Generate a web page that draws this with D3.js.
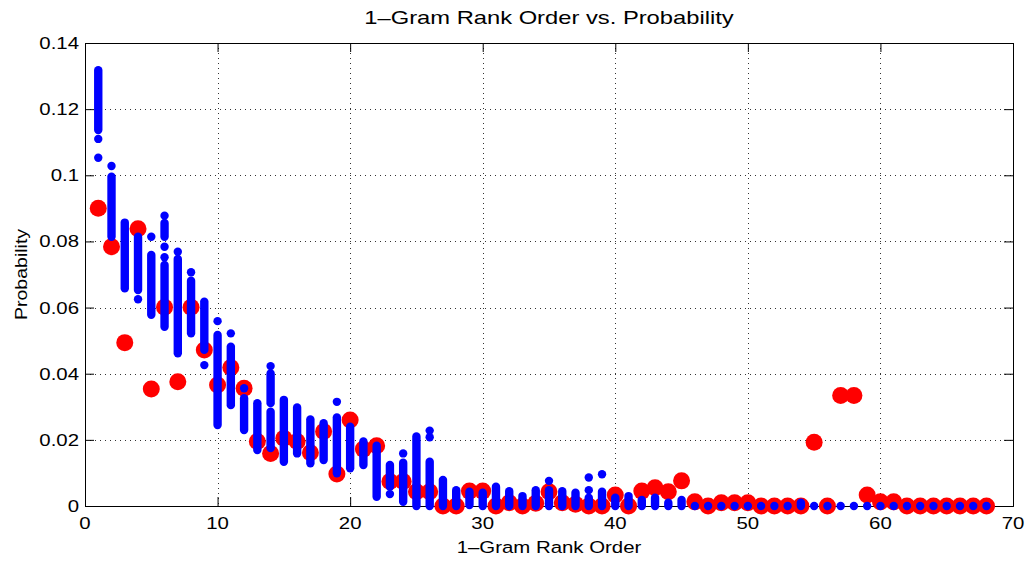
<!DOCTYPE html>
<html>
<head>
<meta charset="utf-8">
<script src="https://cdn.jsdelivr.net/npm/d3@7"></script>
<style>
  body { margin: 0; background: #fff; }
  text { font-family: "Liberation Sans", Arial, Helvetica, sans-serif; fill: #000; }
</style>
</head>
<body>
<svg id="chart" width="1029" height="561"></svg>
<script>
// red markers: one probability per rank (rank = index + 1)
const redProb = [
  0.090, 0.0784, 0.0494, 0.0838, 0.0354, 0.0601, 0.0376, 0.0601, 0.0472, 0.0366,
  0.0419, 0.0356, 0.0195, 0.0159, 0.0205, 0.0195, 0.0161, 0.0225, 0.0097, 0.026,
  0.0172, 0.0182, 0.0074, 0.0074, 0.0043, 0.0043, 0, 0, 0.0045, 0.0045,
  0, 0.001, 0, 0.0008, 0.0043, 0.001, 0.0005, 0, 0, 0.0033,
  0, 0.0045, 0.0055, 0.0043, 0.0076, 0.0013, 0, 0.001, 0.001, 0.001,
  0, 0, 0, 0, 0.0193, 0, 0.0334, 0.0334, 0.0033, 0.0013,
  0.0013, 0, 0, 0, 0, 0, 0, 0
];

// blue markers: dense runs of points per rank, [rank, high, low]
const blueRuns = [
  [1, 0.1318, 0.1137], [2, 0.0996, 0.0814], [3, 0.0857, 0.0658], [4, 0.0814, 0.0653],
  [5, 0.0759, 0.0578], [6, 0.0856, 0.0814], [6, 0.0729, 0.0542], [7, 0.0747, 0.0462],
  [8, 0.0681, 0.0522], [9, 0.0618, 0.0472], [10, 0.0517, 0.0245], [11, 0.0482, 0.0305],
  [12, 0.0326, 0.023], [13, 0.0311, 0.0169], [14, 0.0401, 0.0311], [14, 0.0285, 0.0175],
  [15, 0.0321, 0.0134], [16, 0.0298, 0.0159], [17, 0.0262, 0.0129], [18, 0.025, 0.0139],
  [19, 0.0268, 0.0099], [20, 0.024, 0.0114], [21, 0.0195, 0.0124], [22, 0.0182, 0.0028],
  [23, 0.0124, 0.0058], [24, 0.0131, 0.0013], [25, 0.021, 0], [26, 0.0134, 0],
  [27, 0.0079, 0], [28, 0.0048, 0], [29, 0.0043, 0.0003], [30, 0.004, 0],
  [31, 0.0058, 0], [32, 0.0045, 0], [33, 0.003, 0], [34, 0.0048, 0],
  [35, 0.0048, 0], [36, 0.0045, 0], [37, 0.004, 0], [38, 0.0025, 0],
  [39, 0.0043, 0], [40, 0.0025, 0], [41, 0.003, 0], [42, 0.0018, 0],
  [43, 0.0025, 0], [44, 0.001, 0], [45, 0.0018, 0], [54, 0.001, 0]
];

// blue markers: single points, [rank, probability]
const blueDots = [
  [1, 0.111], [1, 0.1053], [2, 0.1028], [4, 0.0625], [5, 0.0814], [6, 0.0878],
  [6, 0.0784], [6, 0.0752], [7, 0.0769], [8, 0.0707], [9, 0.0426], [10, 0.0559],
  [11, 0.0522], [12, 0.0356], [14, 0.0423], [19, 0.0315], [23, 0.0036], [24, 0.0159],
  [26, 0.0228], [26, 0.0208], [35, 0.0076], [38, 0.0086], [38, 0.0048], [39, 0.0096],
  [46, 0], [47, 0], [48, 0], [49, 0], [50, 0], [51, 0], [52, 0], [53, 0], [55, 0],
  [56, 0], [57, 0], [58, 0], [59, 0], [60, 0], [61, 0], [62, 0], [63, 0], [64, 0],
  [65, 0], [66, 0], [67, 0], [68, 0]
];

const xTicks = [0, 10, 20, 30, 40, 50, 60, 70];
const yTicks = [0, 0.02, 0.04, 0.06, 0.08, 0.1, 0.12, 0.14];

const mLeft = 85, mRight = 1013, mTop = 43, mBottom = 506;
const stretch = 1.2;

const svg = d3.select('#chart');

const x = d3.scaleLinear().domain([0, 70]).range([mLeft, mRight]);
const y = d3.scaleLinear().domain([0, 0.14]).range([mBottom, mTop]);

// dotted grid
const grid = svg.append('g')
    .attr('stroke', '#333')
    .attr('stroke-width', 1)
    .attr('stroke-dasharray', '1,4');

grid.selectAll('.gx')
    .data(xTicks.slice(1, -1))
    .join('line')
    .attr('x1', d => Math.round(x(d)) + 0.5)
    .attr('x2', d => Math.round(x(d)) + 0.5)
    .attr('y1', mTop)
    .attr('y2', mBottom);

grid.selectAll('.gy')
    .data(yTicks.slice(1, -1))
    .join('line')
    .attr('y1', d => Math.round(y(d)) + 0.5)
    .attr('y2', d => Math.round(y(d)) + 0.5)
    .attr('x1', mLeft)
    .attr('x2', mRight);

// axes box with inward ticks on all four sides
const tickLen = 9;
svg.append('g')
    .attr('transform', `translate(0,${mBottom})`)
    .call(d3.axisBottom(x).tickValues(xTicks).tickSize(-tickLen).tickFormat(''));
svg.append('g')
    .attr('transform', `translate(0,${mTop})`)
    .call(d3.axisTop(x).tickValues(xTicks).tickSize(-tickLen).tickFormat(''));
svg.append('g')
    .attr('transform', `translate(${mLeft},0)`)
    .call(d3.axisLeft(y).tickValues(yTicks).tickSize(-tickLen).tickFormat(''));
svg.append('g')
    .attr('transform', `translate(${mRight},0)`)
    .call(d3.axisRight(y).tickValues(yTicks).tickSize(-tickLen).tickFormat(''));
svg.selectAll('.domain').attr('stroke', '#000').attr('stroke-width', 1);
svg.selectAll('.tick line').attr('stroke', '#000');

// tick labels
svg.selectAll('.xlab')
    .data(xTicks)
    .join('text')
    .attr('transform', d => `translate(${x(d)},529) scale(${stretch},1)`)
    .attr('text-anchor', 'middle')
    .style('font-size', '17px')
    .text(d => d);

svg.selectAll('.ylab')
    .data(yTicks)
    .join('text')
    .attr('transform', d => `translate(${mLeft - 6},${y(d) + 6}) scale(${stretch},1)`)
    .attr('text-anchor', 'end')
    .style('font-size', '17px')
    .text(d => d3.format('')(d));

// red markers
svg.append('g')
    .selectAll('circle')
    .data(redProb)
    .join('circle')
    .attr('cx', (d, i) => x(i + 1))
    .attr('cy', d => y(d))
    .attr('r', 8.5)
    .attr('fill', '#ff0000');

// blue markers
svg.append('g')
    .selectAll('line')
    .data(blueRuns)
    .join('line')
    .attr('x1', d => x(d[0]))
    .attr('x2', d => x(d[0]))
    .attr('y1', d => y(d[1]))
    .attr('y2', d => y(d[2]))
    .attr('stroke', '#0000ff')
    .attr('stroke-width', 8.4)
    .attr('stroke-linecap', 'round');

svg.append('g')
    .selectAll('circle')
    .data(blueDots)
    .join('circle')
    .attr('cx', d => x(d[0]))
    .attr('cy', d => y(d[1]))
    .attr('r', 4.2)
    .attr('fill', '#0000ff');

// titles
svg.append('text')
    .attr('transform', `translate(${(mLeft + mRight) / 2},24) scale(1.25,1)`)
    .attr('text-anchor', 'middle')
    .style('font-size', '19px')
    .text('1–Gram Rank Order vs. Probability');

svg.append('text')
    .attr('transform', `translate(${(mLeft + mRight) / 2},553) scale(${stretch},1)`)
    .attr('text-anchor', 'middle')
    .style('font-size', '17px')
    .text('1–Gram Rank Order');

svg.append('text')
    .attr('transform', `translate(27,${(mTop + mBottom) / 2}) rotate(-90) scale(1.15,1)`)
    .attr('text-anchor', 'middle')
    .style('font-size', '17px')
    .text('Probability');
</script>
</body>
</html>
